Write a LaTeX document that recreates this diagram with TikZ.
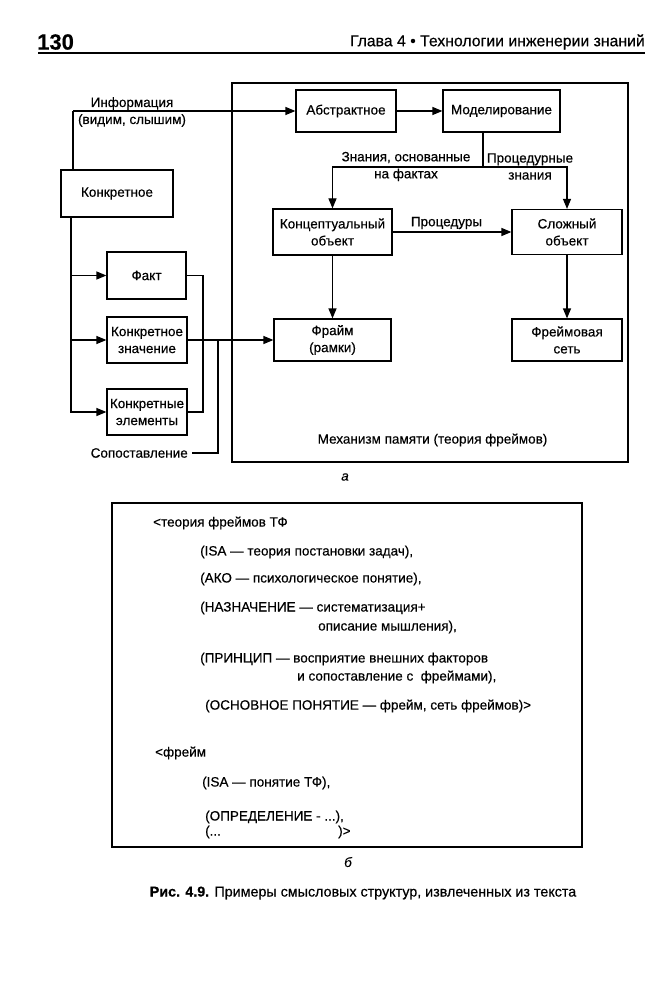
\documentclass[tikz,border=0pt]{standalone}
\usepackage{fontspec}
\setmainfont{Liberation Sans}[FakeBold=0.4]
\usetikzlibrary{arrows.meta}
\newcommand\nfont{\fontsize{13.5pt}{17pt}\selectfont}
\begin{document}
\begin{tikzpicture}[x=1pt,y=-1pt,
  every node/.style={font=\nfont},
  box/.style={draw,line width=1.2pt,inner sep=0pt,align=center},
  lbl/.style={inner sep=0pt,align=center},
  txt/.style={inner sep=0pt,anchor=west},
  ln/.style={line width=1.2pt},
  arr/.style={line width=1.2pt,-{Triangle[length=10pt,width=8pt]}},
  frm/.style={draw,line width=1.3pt}]
\useasboundingbox (0,0) rectangle (668,1000);
\fill[white] (0,0) rectangle (668,1000);
% header
\node[txt,font=\fontsize{22pt}{24pt}\selectfont\bfseries] (pg) at (37,42) {130};
\node[inner sep=0pt,anchor=east,font=\fontsize{15.8pt}{18pt}\selectfont] (hd) at (645,42) {Глава 4 • Технологии инженерии знаний};
\coordinate (rl) at (38,53);
\coordinate (rr) at (645,53);
\draw[ln] (rl) -- (rr);
% frame a
\draw[frm] (232,83) rectangle (628,462);
% boxes
\node[box,minimum width=112pt,minimum height=47pt] (konkr) at (117,193.5) {Конкретное};
\node[box,minimum width=100pt,minimum height=42pt] (abstr) at (346,111) {Абстрактное};
\node[box,minimum width=117pt,minimum height=42pt] (model) at (501.5,111) {Моделирование};
\node[box,minimum width=119pt,minimum height=46pt] (konc) at (332.5,232) {Концептуальный\\объект};
\node[box,minimum width=110pt,minimum height=45pt] (slozh) at (567,232) {Сложный\\объект};
\node[box,minimum width=117pt,minimum height=42pt] (frame) at (332.5,340) {Фрайм\\(рамки)};
\node[box,minimum width=110pt,minimum height=42pt] (fnet) at (567,340) {Фреймовая\\сеть};
\node[box,minimum width=79pt,minimum height=47pt] (fakt) at (146.5,275.5) {Факт};
\node[box,minimum width=80pt,minimum height=46pt] (kznach) at (147,340) {Конкретное\\значение};
\node[box,minimum width=80pt,minimum height=46pt] (kelem) at (147,412) {Конкретные\\элементы};
% labels
\node[lbl] (info) at (132,112) {Информация\\(видим, слышим)};
\node[lbl] (lz) at (406,166.5) {Знания, основанные\\на фактах};
\node[lbl] (lp) at (530,166.5) {Процедурные\\знания};
\node[lbl] (lpr) at (446.5,223) {Процедуры};
\node[lbl] (mech) at (432.5,440) {Механизм памяти (теория фреймов)};
\node[lbl,font=\nfont\itshape] (la) at (345,477) {а};
\node[txt,anchor=east] (sop) at (188,453) {Сопоставление};
% connectors
\coordinate (itop) at (73,111);
\draw[ln] ([xshift=-44pt]konkr.north) -- (itop);
\draw[arr] (itop) -- (abstr.west);
\draw[arr] (abstr.east) -- (model.west);
\coordinate (tr) at (71,217);
\draw[arr] (tr) |- (fakt.west);
\draw[arr] (tr) |- (kznach.west);
\draw[arr] (tr) |- (kelem.west);
\coordinate (fk) at (203,275.5);
\draw[ln] (fakt.east) -- (fk) |- (kelem.east);
\draw[arr] (kznach.east) -- (frame.west);
\coordinate (jn) at (218,340);
\draw[ln] ([xshift=4pt]sop.east) -| (jn);
\coordinate (split) at (483,167);
\draw[ln] (model.south -| split) -- (split);
\draw[arr] (split) -| (konc.north);
\draw[arr] (split) -| (slozh.north);
\draw[arr] (konc.east) -- (slozh.west);
\draw[arr] (konc.south) -- (frame.north);
\draw[arr] (slozh.south) -- (fnet.north);
% frame b
\draw[frm] (112,503) rectangle (582,847);
\node[txt] (t1) at (153,523) {<теория фреймов ТФ};
\node[txt] (t2) at (200,552) {(ISA — теория постановки задач),};
\node[txt] (t3) at (200,579) {(АКО — психологическое понятие),};
\node[txt] (t4) at (200,608) {(НАЗНАЧЕНИЕ — систематизация+};
\node[txt] (t5) at (318,627) {описание мышления),};
\node[txt] (t6) at (200,659) {(ПРИНЦИП — восприятие внешних факторов};
\node[txt] (t7) at (297,677) {и сопоставление с\ \ фреймами),};
\node[txt] (t8) at (205,706) {(ОСНОВНОЕ ПОНЯТИЕ — фрейм, сеть фреймов)>};
\node[txt] (t9) at (155,753) {<фрейм};
\node[txt] (t10) at (202,783) {(ISA — понятие ТФ),};
\node[txt] (t11) at (205,817) {(ОПРЕДЕЛЕНИЕ - ...),};
\node[txt] (t12) at (205,832) {(...};
\node[txt] (t13) at (338,832) {)>};
\node[lbl,font=\nfont\itshape] (lb) at (348,862) {б};
\node[lbl,font=\fontsize{14.3pt}{17pt}\selectfont] (cap) at (363,893) {\textbf{Рис. 4.9.} Примеры смысловых структур, извлеченных из текста};
\end{tikzpicture}
\end{document}
